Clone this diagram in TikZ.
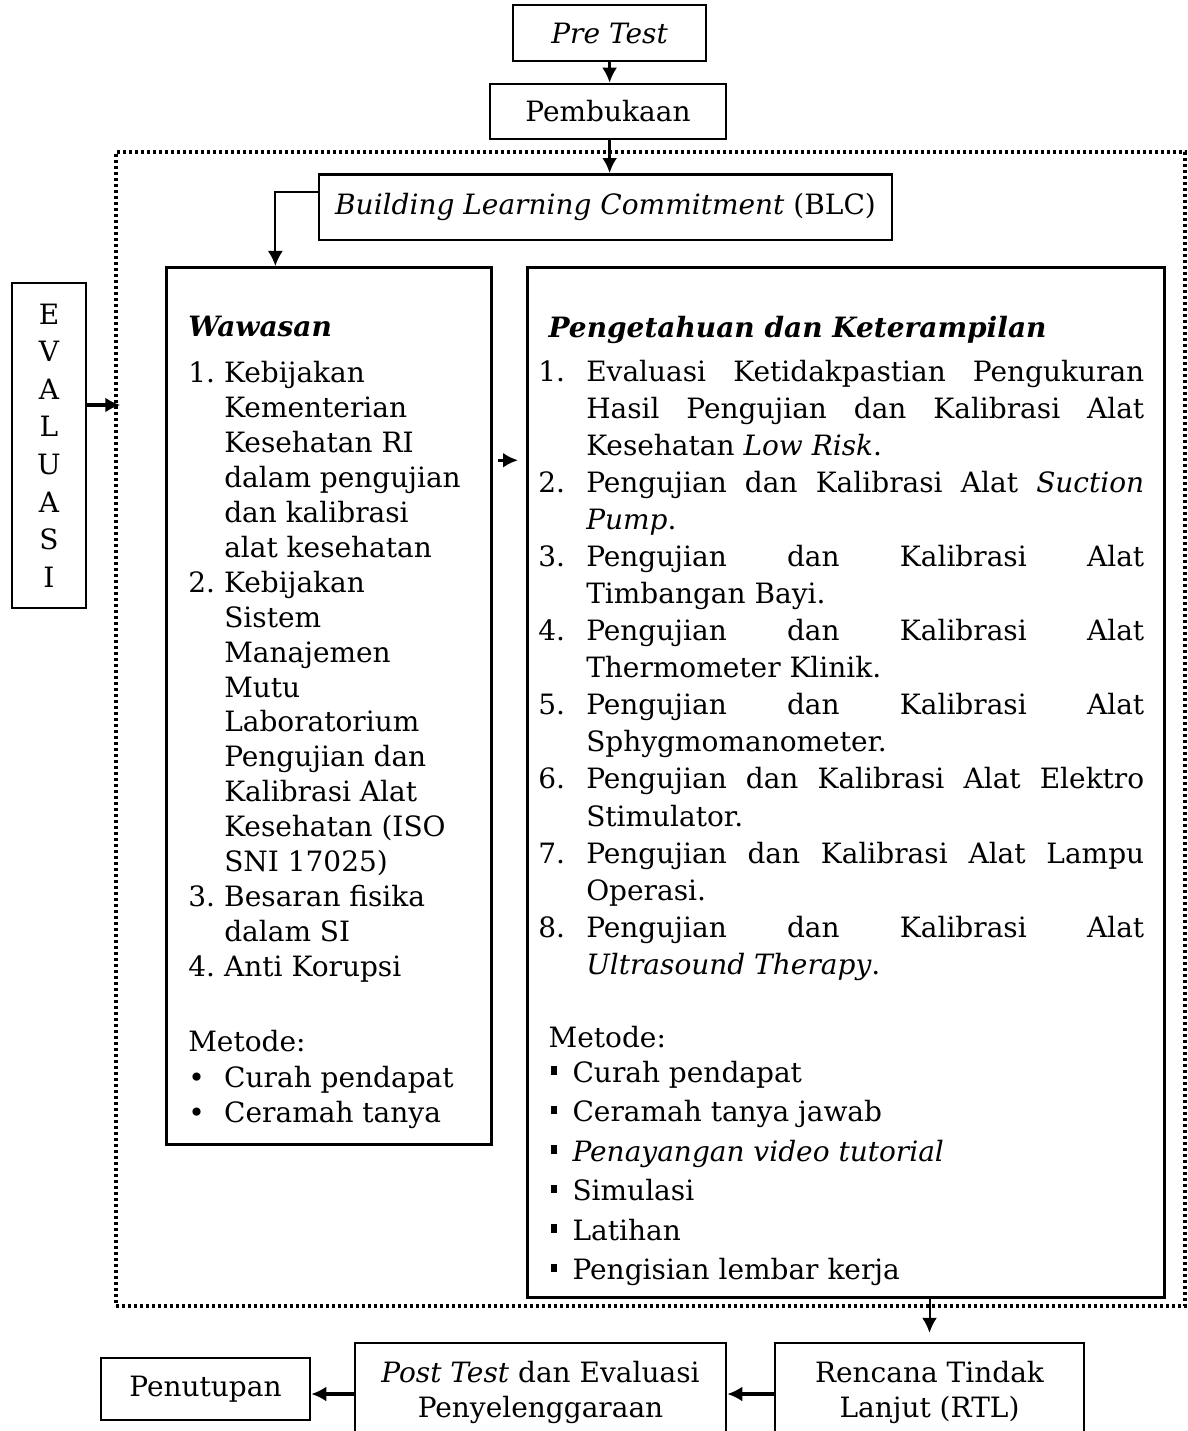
\documentclass[tikz,border=0pt]{standalone}
\usepackage{fontspec}
\setmainfont{DejaVu Serif}
\usepackage{tikz}
\usetikzlibrary{arrows.meta,positioning}

\newlength{\lebarno}
\newcommand{\butir}[2]{\par\noindent\hangindent=\lebarno\hangafter=1\makebox[\lebarno][l]{#1}#2\par}
\newcommand{\kotakkecil}{\rule[7.4pt]{6.4pt}{8.3pt}}

\tikzset{
  kotak/.style={draw, line width=2.5pt, inner sep=0pt, align=center, font=\fontsize{28}{35}\selectfont},
  kotakbesar/.style={draw, line width=2.5pt, inner sep=0pt, anchor=north west},
  bingkai/.style={draw, line width=3.4pt, dash pattern=on 3.4pt off 2.6pt},
  tebal/.style={line width=3.5pt},
  tipis/.style={line width=2pt},
  >={Latex[length=15pt,width=15pt]}
}

\begin{document}
\begin{tikzpicture}[x=1pt, y=-1pt]
  \useasboundingbox (0,0) rectangle (1187,1431);
  \node[bingkai, minimum width=1069pt, minimum height=1154pt] (area) at (650.5,729) {};
  \node[kotak, minimum width=193pt, minimum height=56pt] (pretest) at (609.6,33) {\textit{Pre Test}};
  \node[kotak, minimum width=236pt, minimum height=55pt] (pembukaan) at (608,111.5) {Pembukaan};
  \node[kotak, minimum width=573pt, minimum height=65.7pt] (blc) at (605.5,207.2) {\textit{Building Learning Commitment} (BLC)};
  \node[kotak, minimum width=74pt, minimum height=325pt, font=\fontsize{28}{37.6}\selectfont] (evaluasi) at (49,445.4) {E\\V\\A\\L\\U\\A\\S\\I};
  \node[kotakbesar] (wawasan) at (165,266) {\parbox[c][877pt][t]{325pt}{%
    \fontsize{28}{34.9}\selectfont
    \setlength{\leftskip}{22pt}\setlength{\rightskip}{0pt}%
    \setlength{\lebarno}{36pt}%
    \vspace*{44pt}%
    \noindent\rule{0pt}{25pt}\textbf{\textit{Wawasan}}\par
    \vspace{11.8pt}%
    \butir{1.}{Kebijakan\newline Kementerian\newline Kesehatan RI\newline dalam pengujian\newline dan kalibrasi\newline alat kesehatan}
    \butir{2.}{Kebijakan\newline Sistem\newline Manajemen\newline Mutu\newline Laboratorium\newline Pengujian dan\newline Kalibrasi Alat\newline Kesehatan (ISO\newline SNI 17025)}
    \butir{3.}{Besaran fisika\newline dalam SI}
    \butir{4.}{Anti Korupsi}
    \vspace{40.1pt}%
    \noindent Metode:\par
    \vspace{1.1pt}%
    \butir{\textbullet}{Curah pendapat}
    \butir{\textbullet}{Ceramah tanya}}};
  \node[kotakbesar] (pengetahuan) at (526,266) {\parbox[c][1030pt][t]{637pt}{%
    \fontsize{28}{37.06}\selectfont
    \setlength{\leftskip}{11pt}\setlength{\rightskip}{20pt}%
    \setlength{\lebarno}{48pt}%
    \tolerance=10000 \hbadness=10000 \hyphenpenalty=10000
    \vspace*{45pt}%
    \noindent\hspace*{10.4pt}\rule{0pt}{25pt}\textbf{\textit{Pengetahuan dan Keterampilan}}\par
    \vspace{7pt}%
    \butir{1.}{Evaluasi Ketidakpastian Pengukuran\linebreak Hasil Pengujian dan Kalibrasi Alat\linebreak Kesehatan \textit{Low Risk}.}
    \butir{2.}{Pengujian dan Kalibrasi Alat \textit{Suction}\linebreak \textit{Pump}.}
    \butir{3.}{Pengujian dan Kalibrasi Alat\linebreak Timbangan Bayi.}
    \butir{4.}{Pengujian dan Kalibrasi Alat\linebreak Thermometer Klinik.}
    \butir{5.}{Pengujian dan Kalibrasi Alat\linebreak Sphygmomanometer.}
    \butir{6.}{Pengujian dan Kalibrasi Alat Elektro\linebreak Stimulator.}
    \butir{7.}{Pengujian dan Kalibrasi Alat Lampu\linebreak Operasi.}
    \butir{8.}{Pengujian dan Kalibrasi Alat\linebreak \textit{Ultrasound Therapy}.}
    \vspace{36pt}%
    \noindent\hspace*{10.4pt}Metode:\par
    {\fontsize{28}{39.5}\selectfont
    \setlength{\leftskip}{23.5pt}\setlength{\lebarno}{21.8pt}%
    \vspace{-4.8pt}%
    \butir{\kotakkecil}{Curah pendapat}
    \butir{\kotakkecil}{Ceramah tanya jawab}
    \butir{\kotakkecil}{\textit{Penayangan video tutorial}}
    \butir{\kotakkecil}{Simulasi}
    \butir{\kotakkecil}{Latihan}
    \butir{\kotakkecil}{Pengisian lembar kerja}}}};
  \node[kotak, minimum width=309pt, minimum height=98pt] (rtl) at (929.5,1392) {Rencana Tindak\\Lanjut (RTL)};
  \node[kotak, minimum width=371pt, minimum height=98pt] (posttest) at (540.5,1392) {\textit{Post Test} dan Evaluasi\\Penyelenggaraan};
  \node[kotak, minimum width=209pt, minimum height=62pt] (penutupan) at (205.5,1389) {Penutupan};
  \draw[->, tebal] (pretest.south) -- (pretest.south |- pembukaan.north);
  \draw[->, tebal] (pembukaan.south -| pretest.south) -- (pretest.south |- blc.north);
  \draw[->, tipis] ([yshift=15.5pt]blc.west) -| ([xshift=-53.4pt]wawasan.north);
  \draw[->, tebal, shorten >=-6pt] ([yshift=40.4pt]evaluasi.east) -- ([yshift=40.4pt]evaluasi.east -| area.west);
  \draw[->, tebal, shorten <=5pt, shorten >=8pt] ([yshift=245.5pt]wawasan.east) -- ([yshift=245.5pt]wawasan.east -| pengetahuan.west);
  \draw[->, tipis, shorten >=9pt] (pengetahuan.south -| rtl.north) -- (rtl.north);
  \draw[->, tebal] ([yshift=-2pt]rtl.west) -- ([yshift=-2pt]posttest.east);
  \draw[->, tebal] ([yshift=-2pt]posttest.west) -- ([yshift=-2pt]posttest.west -| penutupan.east);
\end{tikzpicture}
\end{document}
